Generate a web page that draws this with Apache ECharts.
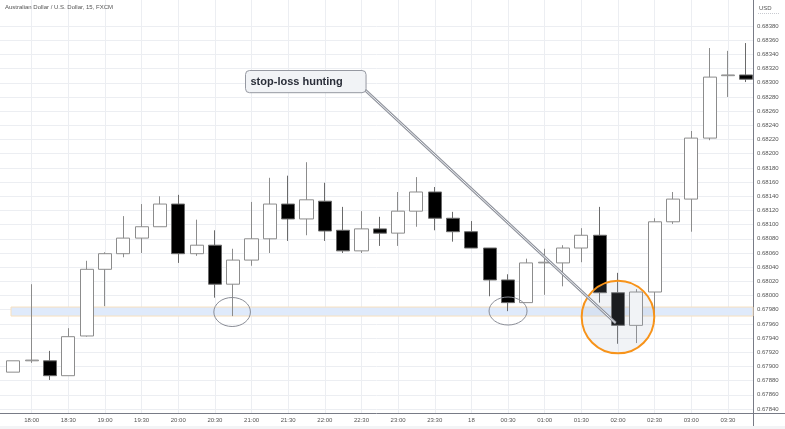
<!DOCTYPE html>
<html><head><meta charset="utf-8">
<script src="https://cdn.jsdelivr.net/npm/echarts@6/dist/echarts.min.js"></script>
<style>html,body{margin:0;padding:0;background:#fff}#c{width:785px;height:429px}</style>
</head><body><div id="c"></div>
<script>
// ---- data ----
const chartTitle = 'Australian Dollar / U.S. Dollar, 15, FXCM';
const currency = 'USD';
const times = ['17:45','18:00','18:15','18:30','18:45','19:00','19:15','19:30','19:45','20:00',
  '20:15','20:30','20:45','21:00','21:15','21:30','21:45','22:00','22:15','22:30',
  '22:45','23:00','23:15','23:30','23:45','00:00','00:15','00:30','00:45','01:00',
  '01:15','01:30','01:45','02:00','02:15','02:30','02:45','03:00','03:15','03:30','03:45'];
const opens  = [0.67892,0.67908,0.67908,0.67887,0.67943,0.68037,0.68059,0.68081,0.68097,0.68129,
  0.68059,0.68071,0.68016,0.68050,0.68080,0.68129,0.68108,0.68133,0.68092,0.68063,
  0.68094,0.68088,0.68119,0.68146,0.68109,0.68090,0.68067,0.68022,0.67990,0.68046,
  0.68046,0.68067,0.68085,0.68004,0.67958,0.68005,0.68104,0.68136,0.68222,0.68310,0.68311];
const closes = [0.67908,0.67909,0.67887,0.67942,0.68037,0.68059,0.68081,0.68097,0.68129,0.68059,
  0.68071,0.68016,0.68050,0.68080,0.68129,0.68108,0.68135,0.68091,0.68063,0.68094,
  0.68088,0.68119,0.68146,0.68109,0.68090,0.68067,0.68022,0.67990,0.68046,0.68047,
  0.68067,0.68085,0.68004,0.67958,0.68005,0.68104,0.68136,0.68222,0.68308,0.68311,0.68305];
const lows   = [0.67892,0.67905,0.67881,0.67887,0.67942,0.67985,0.68054,0.68060,0.68097,0.68046,
  0.68056,0.67997,0.67971,0.68042,0.68060,0.68077,0.68085,0.68077,0.68060,0.68060,
  0.68070,0.68070,0.68097,0.68092,0.68076,0.68067,0.67999,0.67978,0.67990,0.68001,
  0.68013,0.68047,0.67990,0.67932,0.67933,0.67963,0.68101,0.68090,0.68219,0.68280,0.68301];
const highs  = [0.67908,0.68016,0.67922,0.67954,0.68049,0.68061,0.68112,0.68129,0.68140,0.68142,
  0.68107,0.68092,0.68066,0.68132,0.68166,0.68169,0.68188,0.68159,0.68125,0.68119,
  0.68111,0.68146,0.68167,0.68153,0.68118,0.68105,0.68067,0.68030,0.68052,0.68066,
  0.68071,0.68095,0.68125,0.68032,0.68009,0.68109,0.68146,0.68232,0.68349,0.68345,0.68356];
const yTickLabels = ['0.67840','0.67860','0.67880','0.67900','0.67920','0.67940','0.67960','0.67980',
  '0.68000','0.68020','0.68040','0.68060','0.68080','0.68100','0.68120','0.68140','0.68160','0.68180',
  '0.68200','0.68220','0.68240','0.68260','0.68280','0.68300','0.68320','0.68340','0.68360','0.68380'];
const xTickTimes = ['18:00','18:30','19:00','19:30','20:00','20:30','21:00','21:30','22:00','22:30',
  '23:00','23:30','00:00','00:30','01:00','01:30','02:00','02:30','03:00','03:30'];
const dayLabels = {'00:00': '18'};
const supportBand = [0.679711, 0.679838];
const calloutText = 'stop-loss hunting';
// annotation anchors in data space [bar index, price]
const calloutBoxTL = [12.67, 0.683173];
const calloutBoxBR = [19.25, 0.682860];
const calloutStart = [19.14, 0.682912];
const calloutTip = [32.87, 0.679613];
const ellipseA = [11.94, 0.679768];
const ellipseB = [27.0, 0.679782];
const focusCircle = [33.0, 0.679697];

// ---- chart ----
const chart = echarts.init(document.getElementById('c'), null, {renderer: 'canvas'});
const candles = times.map((t, i) => [i, opens[i], closes[i], lows[i], highs[i]]);
const xTickIdx = xTickTimes.map(t => times.indexOf(t));
const yTickVals = yTickLabels.map(Number);
const lblFont = 'Liberation Sans, Arial, sans-serif';

chart.setOption({
  animation: false,
  backgroundColor: '#ffffff',
  grid: {left: 0, right: 32, top: 0, bottom: 16, containLabel: false},
  xAxis: {
    type: 'value', min: -0.730, max: 40.37,
    axisLine: {show: true, onZero: false, lineStyle: {color: '#787b86', width: 1}},
    axisTick: {show: false, customValues: xTickIdx},
    axisLabel: {customValues: xTickIdx, color: '#555', fontSize: 6, fontFamily: lblFont, margin: 4,
      formatter: v => { const t = times[Math.round(v)]; return dayLabels[t] || t; }},
    splitLine: {show: true, lineStyle: {color: '#eceef2', width: 1}}
  },
  yAxis: {
    type: 'value', position: 'right', min: 0.678344, max: 0.684167, scale: true,
    axisLine: {show: true, onZero: false, lineStyle: {color: '#787b86', width: 1}},
    axisTick: {show: false, customValues: yTickVals},
    axisLabel: {customValues: yTickVals, color: '#555', fontSize: 6, fontFamily: lblFont, margin: 4,
      formatter: v => v.toFixed(5)},
    splitLine: {show: true, lineStyle: {color: '#eceef2', width: 1}}
  },
  series: [{
    type: 'candlestick',
    data: candles,
    barWidth: 13.6,
    itemStyle: {color: '#ffffff', color0: '#000000', borderColor: '#8c8c8c', borderColor0: '#6a6a6a', borderWidth: 1},
    markArea: {
      silent: true,
      itemStyle: {color: '#dfeafb', borderColor: '#f7e0bf', borderWidth: 1},
      data: [[{xAxis: -0.13, yAxis: supportBand[0]}, {xAxis: 40.37, yAxis: supportBand[1]}]]
    }
  }]
});

function px(p) { return chart.convertToPixel({gridIndex: 0}, p); }
const tl = px(calloutBoxTL), br = px(calloutBoxBR), st = px(calloutStart), tip = px(calloutTip);
const eA = px(ellipseA), eB = px(ellipseB), fc = px(focusCircle);

chart.setOption({
  graphic: [
    {type: 'text', left: 5, top: 4, style: {text: chartTitle, fill: '#555', font: '6px ' + lblFont}},
    {type: 'text', left: 759, top: 5, style: {text: currency, fill: '#555', font: '6px ' + lblFont}},
    {type: 'line', shape: {x1: 758, y1: 13.5, x2: 780, y2: 13.5}, style: {stroke: '#c8cad0', lineWidth: 1, lineDash: [1, 1]}},
    {type: 'line', shape: {x1: 753, y1: 413.5, x2: 785, y2: 413.5}, style: {stroke: '#787b86', lineWidth: 1}},
    {type: 'line', shape: {x1: 753.5, y1: 413, x2: 753.5, y2: 429}, style: {stroke: '#787b86', lineWidth: 1}},
    {type: 'rect', shape: {x: 0, y: 426, width: 785, height: 3}, style: {fill: '#f3f4f6'}},
    {type: 'ellipse', shape: {cx: eA[0], cy: eA[1], rx: 18.3, ry: 14.5}, style: {fill: 'none', stroke: '#8a8d96', lineWidth: 1}, z: 10},
    {type: 'ellipse', shape: {cx: eB[0], cy: eB[1], rx: 19, ry: 14}, style: {fill: 'none', stroke: '#8a8d96', lineWidth: 1}, z: 10},
    {type: 'circle', shape: {cx: fc[0], cy: fc[1], r: 36.3}, style: {fill: 'rgba(170,180,200,0.16)', stroke: '#f7931a', lineWidth: 2}, z: 10},
    {type: 'line', shape: {x1: st[0], y1: st[1], x2: tip[0], y2: tip[1]}, style: {stroke: '#8f929b', lineWidth: 3}, z: 11},
    {type: 'line', shape: {x1: st[0], y1: st[1], x2: tip[0], y2: tip[1]}, style: {stroke: '#eef1f5', lineWidth: 1}, z: 12},
    {type: 'rect', shape: {x: tl[0], y: tl[1], width: br[0] - tl[0], height: br[1] - tl[1], r: 4},
      style: {fill: '#f1f3f6', stroke: '#9598a1', lineWidth: 1}, z: 13},
    {type: 'text', x: tl[0] + 5, y: (tl[1] + br[1]) / 2, z: 14,
      style: {text: calloutText, fill: '#2a2e39', font: 'bold 11px ' + lblFont, textVerticalAlign: 'middle'}}
  ]
});
</script></body></html>
